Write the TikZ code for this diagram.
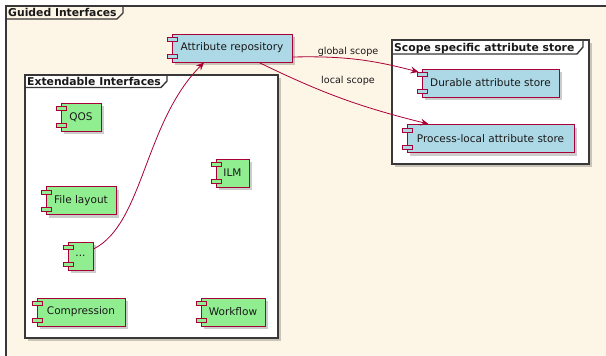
\documentclass[tikz,border=0pt]{standalone}
\usepackage{fontspec}
\setmainfont{DejaVu Sans}
\usepackage{tikz}
\usetikzlibrary{arrows.meta}
\usetikzlibrary{shadows}
\definecolor{crim}{HTML}{A80036}
\definecolor{lblue}{HTML}{ADD8E6}
\definecolor{lgreen}{HTML}{90EE90}
\definecolor{lace}{HTML}{FDF5E6}
\definecolor{frm}{HTML}{383838}
\newcommand{\compfont}{\fontsize{10.5}{12}\selectfont}
\newcommand{\frmfont}{\bfseries\fontsize{10.8}{12}\selectfont}

\begin{document}
\begin{tikzpicture}[x=1pt,y=-1pt]
\tikzstyle{every node}=[text=black!90]
\tikzstyle{shd}=[drop shadow={shadow xshift=3pt,shadow yshift=-3pt,opacity=0.2,fill=black}]
\tikzstyle{comp}=[draw=crim,line width=1pt,minimum height=28pt,inner sep=0pt,font=\compfont,shd]
\tikzstyle{frame}=[draw=frm,line width=1.4pt]
\tikzstyle{conn}=[draw=crim,line width=0.8pt,-{Stealth[length=8pt,width=7pt,inset=3pt]}]
\tikzstyle{lbl}=[font=\fontsize{9.6}{11}\selectfont,inner sep=0pt]
\useasboundingbox (0,0) rectangle (606,356);
% packages
\draw[frame,fill=lace] (6,6) rectangle (640,357.2);
\draw[frame] (6,19) -- (117,19) -- (123,13) -- (123,6);
\node[anchor=base west,font=\frmfont,inner sep=0pt] (gi) at (8,16.5) {Guided Interfaces};
\draw[frame,fill=white,shd] (25,75) rectangle (278,338);
\draw[frame] (25,87.5) -- (161,87.5) -- (167,81) -- (167,75);
\node[anchor=base west,font=\frmfont,inner sep=0pt] (ei) at (27,85) {Extendable Interfaces};
\draw[frame,fill=white,shd] (392,40) rectangle (589,164);
\draw[frame] (392,54) -- (577,54) -- (583,47) -- (583,40);
\node[anchor=base west,font=\frmfont,inner sep=0pt] (ss) at (394,51.5) {Scope specific attribute store};
% components
\node[comp,fill=lblue,minimum width=120pt] (ar) at (232,48) {Attribute repository};
\node[comp,fill=lblue,minimum width=137pt] (das) at (490.5,83) {Durable attribute store};
\node[comp,fill=lblue,minimum width=167pt] (pla) at (490.5,138.5) {Process-local attribute store};
\node[comp,fill=lgreen,minimum width=40pt] (qos) at (81,117) {QOS};
\node[comp,fill=lgreen,minimum width=33pt] (ilm) at (232.5,173) {ILM};
\node[comp,fill=lgreen,minimum width=70pt] (fl) at (81,200.5) {File layout};
\node[comp,fill=lgreen,minimum width=25pt] (dots) at (80.5,256) {...};
\node[comp,fill=lgreen,minimum width=88pt] (cmp) at (81,312) {Compression};
\node[comp,fill=lgreen,minimum width=64pt] (wf) at (233,312) {Workflow};
\foreach \n in {ar,das,pla}{
  \draw[crim,line width=0.8pt,fill=lblue] ([shift={(-4,4)}]\n.north west) rectangle ++(10,4);
  \draw[crim,line width=0.8pt,fill=lblue] ([shift={(-4,-8)}]\n.south west) rectangle ++(10,4);
}
\foreach \n in {qos,ilm,fl,dots,cmp,wf}{
  \draw[crim,line width=0.8pt,fill=lgreen] ([shift={(-4,4)}]\n.north west) rectangle ++(10,4);
  \draw[crim,line width=0.8pt,fill=lgreen] ([shift={(-4,-8)}]\n.south west) rectangle ++(10,4);
}
% links
\draw[conn] ([yshift=7pt]dots.east) .. controls +(50,-25) and +(-60,60) .. ([xshift=-28pt]ar.south);
\draw[conn] ([yshift=-9pt]ar.east) to[bend left=8] ([shift={(-3,-11)}]das.west);
\draw[conn] ([xshift=27pt]ar.south) to[bend right=6] ([xshift=-62pt]pla.north);
\node[lbl] (gs) at (348,52) {global scope};
\node[lbl] (ls) at (348,81) {local scope};
\end{tikzpicture}
\end{document}
